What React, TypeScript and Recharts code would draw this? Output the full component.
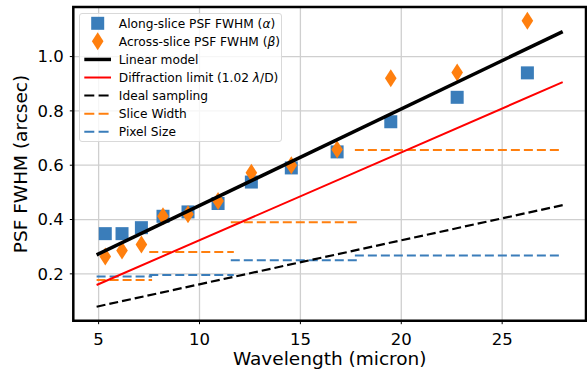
import { ComposedChart, Scatter, XAxis, YAxis, CartesianGrid, ReferenceArea } from 'recharts';

// measured PSF widths per MRS band
const wavelengths = [5.33, 6.16, 7.12, 8.19, 9.43, 10.92, 12.57, 14.55, 16.82, 19.48, 22.77, 26.25];
const alongFwhm = [0.348, 0.348, 0.37, 0.412, 0.428, 0.459, 0.538, 0.59, 0.649, 0.76, 0.85, 0.94];
const acrossFwhm = [0.264, 0.286, 0.308, 0.412, 0.419, 0.468, 0.572, 0.6, 0.658, 0.92, 0.941, 1.132];

// model curves, evaluated at the ends of the wavelength range
const modelX = [4.9, 28];
const linearModel = [0.27, 1.092];
const diffractionLimit = [0.159, 0.906];
const idealSampling = [0.079, 0.453];

// per-channel detector geometry
const channelStart = [4.9, 7.51, 11.55, 17.7];
const channelEnd = [7.65, 11.7, 17.98, 28];
const sliceWidth = [0.177, 0.28, 0.39, 0.656];
const pixelSize = [0.19, 0.196, 0.25, 0.268];

const xTicks = [5, 10, 15, 20, 25];
const yTicks = [0.2, 0.4, 0.6, 0.8, 1.0];
const X_DOMAIN: [number, number] = [3.745, 29.155];
const Y_DOMAIN: [number, number] = [0.0275, 1.1825];

const BLUE = '#3a7dba';
const ORANGE = '#ff7f0e';
const FONT = '"DejaVu Sans", sans-serif';
const DASH = '9 4';

const toPoints = (xs: number[], ys: number[]) => xs.map((x, i) => ({ x, y: ys[i] }));

const NoDot = () => <g />;

const Square = (props: any) => {
  const { cx, cy } = props;
  return <rect x={cx - 6.5} y={cy - 6.5} width={13} height={13} fill={BLUE} />;
};

const Diamond = (props: any) => {
  const { cx, cy } = props;
  return (
    <path d={`M${cx},${cy - 9} L${cx + 5.8},${cy} L${cx},${cy + 9} L${cx - 5.8},${cy} Z`} fill={ORANGE} />
  );
};

function lineSeries(key: string, data: { x: number; y: number }[], stroke: string, width: number, dash?: string) {
  return (
    <Scatter
      key={key}
      data={data}
      shape={NoDot}
      fill="none"
      stroke={stroke}
      line={{ stroke, strokeWidth: width, strokeDasharray: dash, fill: 'none' }}
      isAnimationActive={false}
    />
  );
}

const legendRows = [
  { kind: 'square', label: ['Along-slice PSF FWHM (', 'α', ')'] },
  { kind: 'diamond', label: ['Across-slice PSF FWHM (', 'β', ')'] },
  { kind: 'line', color: '#000', width: 3.5, label: ['Linear model'] },
  { kind: 'line', color: '#ff0000', width: 2, label: ['Diffraction limit (1.02 ', 'λ', '/D)'] },
  { kind: 'dash', color: '#000', width: 2, label: ['Ideal sampling'] },
  { kind: 'dash', color: ORANGE, width: 2, label: ['Slice Width'] },
  { kind: 'dash', color: BLUE, width: 2, label: ['Pixel Size'] },
];

function LegendBox() {
  return (
    <div
      style={{
        position: 'absolute',
        left: 79,
        top: 13,
        width: 201,
        height: 127,
        background: 'rgba(255,255,255,0.8)',
        border: '1px solid #d9d9d9',
        borderRadius: 3,
      }}
    >
      <svg width={201} height={127} style={{ position: 'absolute', left: 0, top: 0, overflow: 'visible' }}>
        {legendRows.map((row, i) => {
          const cy = 9.3 + i * 18.07;
          let handle = null;
          if (row.kind === 'square') handle = <rect x={11.2} y={cy - 6.5} width={13} height={13} fill={BLUE} />;
          else if (row.kind === 'diamond')
            handle = <path d={`M17.7,${cy - 9} L23.5,${cy} L17.7,${cy + 9} L11.9,${cy} Z`} fill={ORANGE} />;
          else
            handle = (
              <line
                x1={4.3}
                x2={31}
                y1={cy}
                y2={cy}
                stroke={row.color}
                strokeWidth={row.width}
                strokeDasharray={row.kind === 'dash' ? '10 4.3' : undefined}
              />
            );
          return (
            <g key={i}>
              {handle}
              <text x={38.8} y={cy + 4.4} fontSize={12.2} fontFamily={FONT} fill="#000">
                {row.label.map((part, j) =>
                  j === 1 ? (
                    <tspan key={j} fontStyle="italic">
                      {part}
                    </tspan>
                  ) : (
                    <tspan key={j}>{part}</tspan>
                  )
                )}
              </text>
            </g>
          );
        })}
      </svg>
    </div>
  );
}

export default function App() {
  const along = toPoints(wavelengths, alongFwhm);
  const across = toPoints(wavelengths, acrossFwhm);

  return (
    <div style={{ position: 'relative', width: 587, height: 373, background: '#fff', fontFamily: FONT }}>
      <style>{'body{margin:0}'}</style>
      <ComposedChart width={587} height={373} margin={{ top: 7, right: 1, bottom: 0, left: 0 }}>
        <CartesianGrid stroke="#cfcfcf" strokeWidth={1.3} />
        <XAxis
          type="number"
          dataKey="x"
          domain={X_DOMAIN}
          ticks={xTicks}
          allowDataOverflow
          height={52.3}
          axisLine={false}
          tickSize={3.5}
          tickMargin={9}
          tickLine={{ stroke: '#000', strokeWidth: 1 }}
          tick={{ fontSize: 16.5, fill: '#000', fontFamily: FONT }}
        />
        <YAxis
          type="number"
          dataKey="y"
          domain={Y_DOMAIN}
          ticks={yTicks}
          allowDataOverflow
          width={73.3}
          axisLine={false}
          tickSize={3.5}
          tickMargin={6}
          tickLine={{ stroke: '#000', strokeWidth: 1 }}
          tick={{ fontSize: 16.5, fill: '#000', fontFamily: FONT }}
          tickFormatter={(v: number) => v.toFixed(1)}
        />
        <ReferenceArea
          x1={X_DOMAIN[0]}
          x2={X_DOMAIN[1]}
          y1={Y_DOMAIN[0]}
          y2={Y_DOMAIN[1]}
          fill="none"
          fillOpacity={0}
          stroke="#000"
          strokeWidth={2.5}
        />
        <Scatter data={along} shape={Square} fill={BLUE} isAnimationActive={false} />
        <Scatter data={across} shape={Diamond} fill={ORANGE} isAnimationActive={false} />
        {channelStart.map((s, i) =>
          lineSeries(`slice${i}`, toPoints([s, channelEnd[i]], [sliceWidth[i], sliceWidth[i]]), ORANGE, 2, DASH)
        )}
        {channelStart.map((s, i) =>
          lineSeries(`pix${i}`, toPoints([s, channelEnd[i]], [pixelSize[i], pixelSize[i]]), BLUE, 2, DASH)
        )}
        {lineSeries('ideal', toPoints(modelX, idealSampling), '#000', 2.2, DASH)}
        {lineSeries('diff', toPoints(modelX, diffractionLimit), '#ff0000', 2)}
        {lineSeries('linear', toPoints(modelX, linearModel), '#000', 3.5)}
      </ComposedChart>
      <svg width={587} height={373} style={{ position: 'absolute', left: 0, top: 0, pointerEvents: 'none' }}>
        <text x={329.7} y={365} textAnchor="middle" fontSize={18.5} fontFamily={FONT} fill="#000">
          Wavelength (micron)
        </text>
        <text
          transform="translate(27,164) rotate(-90)"
          textAnchor="middle"
          fontSize={18.5}
          fontFamily={FONT}
          fill="#000"
        >
          PSF FWHM (arcsec)
        </text>
      </svg>
      <LegendBox />
    </div>
  );
}
